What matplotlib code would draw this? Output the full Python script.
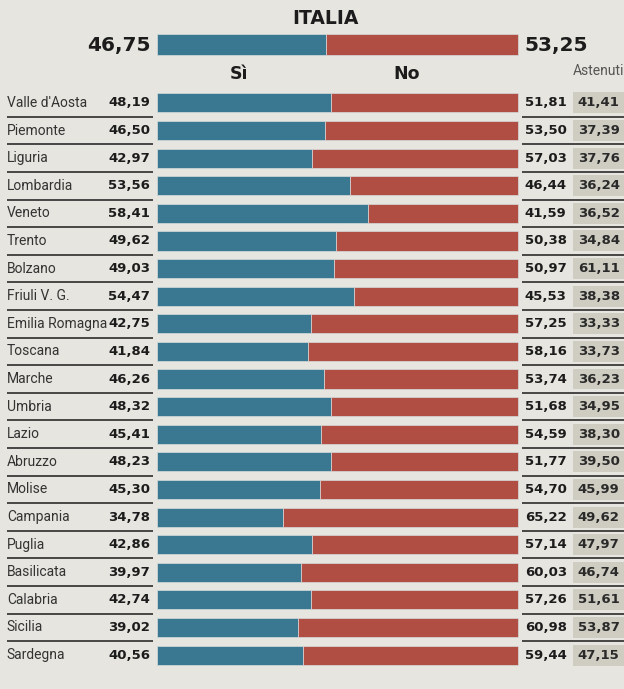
import matplotlib.pyplot as plt

regions = ["Valle d'Aosta", "Piemonte", "Liguria", "Lombardia", "Veneto", "Trento",
           "Bolzano", "Friuli V. G.", "Emilia Romagna", "Toscana", "Marche", "Umbria",
           "Lazio", "Abruzzo", "Molise", "Campania", "Puglia", "Basilicata", "Calabria",
           "Sicilia", "Sardegna"]
si = [48.19, 46.50, 42.97, 53.56, 58.41, 49.62, 49.03, 54.47, 42.75, 41.84, 46.26,
      48.32, 45.41, 48.23, 45.30, 34.78, 42.86, 39.97, 42.74, 39.02, 40.56]
no = [51.81, 53.50, 57.03, 46.44, 41.59, 50.38, 50.97, 45.53, 57.25, 58.16, 53.74,
      51.68, 54.59, 51.77, 54.70, 65.22, 57.14, 60.03, 57.26, 60.98, 59.44]
astenuti = [41.41, 37.39, 37.76, 36.24, 36.52, 34.84, 61.11, 38.38, 33.33, 33.73, 36.23,
            34.95, 38.30, 39.50, 45.99, 49.62, 47.97, 46.74, 51.61, 53.87, 47.15]
italia_si = 46.75
italia_no = 53.25

BLUE = "#3a7891"
RED = "#b04e44"
BG = "#e6e5df"
GREY = "#cfcdc2"
INK = "#1c1c1c"


def fmt(v):
    return ("%.2f" % v).replace(".", ",")


fig = plt.figure(figsize=(6.24, 6.89), dpi=100, facecolor=BG)
ax = fig.add_axes([0, 0, 1, 1])
ax.set_facecolor(BG)
ax.set_xlim(-43.5, 129.4)
ax.set_ylim(21.23, -3.73)
ax.axis("off")

num_font = dict(family="DejaVu Sans", weight="heavy", color=INK)
lab_font = dict(family="Roboto", weight="normal", color="#333333")

# Italia summary
ax.barh(-2.12, italia_si, height=0.76, color=BLUE, edgecolor="#d8dcdc", linewidth=0.5)
ax.barh(-2.12, italia_no, left=italia_si, height=0.76, color=RED, edgecolor="#d8dcdc", linewidth=0.5)
ax.text(46.8, -3.05, "ITALIA", ha="center", va="center", fontsize=13.5, **num_font)
ax.text(-1.9, -2.08, fmt(italia_si), ha="right", va="center", fontsize=14.5, **num_font)
ax.text(101.9, -2.08, fmt(italia_no), ha="left", va="center", fontsize=14.5, **num_font)
ax.text(22.8, -1.04, "Sì", ha="center", va="center", fontsize=12.5, **num_font)
ax.text(69.3, -1.04, "No", ha="center", va="center", fontsize=12.5, **num_font)
ax.text(115.2, -1.14, "Astenuti", ha="left", va="center", fontsize=10,
        family="Roboto", color="#555555")

for i, name in enumerate(regions):
    ax.barh(i, si[i], height=0.69, color=BLUE, edgecolor="#d8dcdc", linewidth=0.5)
    ax.barh(i, no[i], left=si[i], height=0.69, color=RED, edgecolor="#d8dcdc", linewidth=0.5)
    ax.text(-41.6, i, name, ha="left", va="center", fontsize=10, **lab_font)
    ax.text(-1.9, i, fmt(si[i]), ha="right", va="center", fontsize=9.5, **num_font)
    ax.text(101.9, i, fmt(no[i]), ha="left", va="center", fontsize=9.5, **num_font)
    ax.barh(i, 20, left=115.2, height=0.76, color=GREY)
    ax.text(116.6, i, fmt(astenuti[i]), ha="left", va="center", fontsize=9.5,
            family="DejaVu Sans", weight="bold", color="#2a2a2a")
    if i < len(regions) - 1:
        ax.plot([-41.6, -1.1], [i + 0.5, i + 0.5], color=INK, lw=1.1, solid_capstyle="butt")
        ax.plot([101.1, 129.4], [i + 0.5, i + 0.5], color=INK, lw=1.1, solid_capstyle="butt")

plt.savefig("out.png", dpi=100, facecolor=BG)
